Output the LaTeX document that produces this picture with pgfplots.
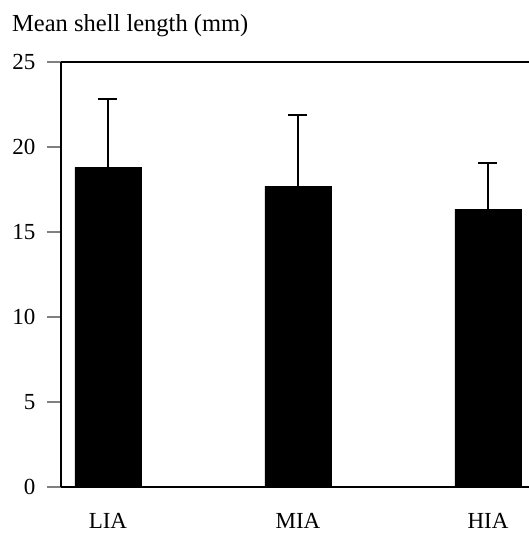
\documentclass[border=0pt]{standalone}
\usepackage{fontspec}
\setmainfont{Liberation Serif}
\usepackage{pgfplots}
\pgfplotsset{compat=1.18}
\begin{document}
\begin{tikzpicture}
\begin{axis}[
  scale only axis,
  width=468pt, height=425pt,
  xmin=-0.247, xmax=2.216,
  ymin=0, ymax=25,
  axis lines*=left,
  axis line style={line width=2pt},
  xtick={0,1,2},
  xticklabels={LIA,MIA,HIA},
  xtick style={draw=none},
  xticklabel style={anchor=base, inner sep=0pt, yshift=-27pt, font=\fontsize{23}{26}\selectfont},
  ytick={0,5,10,15,20,25},
  tick align=outside,
  ytick style={line width=1.6pt},
  major tick length=14pt,
  yticklabel style={xshift=-8pt, font=\fontsize{23}{26}\selectfont},
  /pgf/number format/assume math mode=true,
  clip=false,
]
\addplot[ybar, bar width=66pt, fill=black, draw=black,
  error bars/.cd, y dir=plus, y explicit,
  error bar style={line width=2pt},
  error mark options={rotate=90, mark size=9.5pt, line width=2pt}]
  coordinates {(0,18.8) +- (0,4.0) (1,17.7) +- (0,4.2) (2,16.35) +- (0,2.7)};
\end{axis}
\draw[line width=2pt] (current axis.north west) -- (current axis.north east);
\node[anchor=base west, font=\fontsize{24.5}{28}\selectfont, inner sep=0pt]
  at ([xshift=-49pt,yshift=30pt]current axis.north west) {Mean shell length (mm)};
\pgfresetboundingbox
\useasboundingbox ([xshift=-61pt,yshift=-46pt]current axis.south west) rectangle ([yshift=62pt]current axis.north east);
\end{tikzpicture}
\end{document}
